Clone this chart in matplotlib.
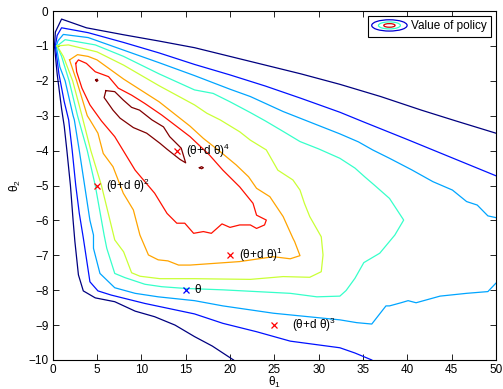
import matplotlib
matplotlib.use("Agg")
import matplotlib.pyplot as plt
from matplotlib.colors import Normalize, LinearSegmentedColormap
from matplotlib.patches import Ellipse
from matplotlib.legend_handler import HandlerBase
from matplotlib.lines import Line2D

plt.rcParams['font.family'] = ['Liberation Sans', 'DejaVu Sans']
plt.rcParams['mathtext.fontset'] = 'custom'
plt.rcParams['mathtext.rm'] = 'Liberation Sans'
plt.rcParams['mathtext.it'] = 'Liberation Sans'
plt.rcParams['mathtext.default'] = 'regular'

# ---- contour levels (value of policy), traced iso-lines: theta1 / theta2 ----
level_values = [1, 2, 3, 4, 5, 6, 7, 8]

c1_t1 = [50, 45.5, 41.6, 37, 32.4, 28, 24, 20, 16, 12, 8, 3.8, 1, 0.3, 0.2, 0.5, 1.0, 1.3, 1.6, 2.0, 2.3, 2.5, 2.9, 3.45, 4.8, 7, 9.3, 11.5, 13.8, 16, 18, 19.2, 20.4]
c1_t2 = [-3.5, -3.15, -2.84, -2.45, -2.1, -1.8, -1.55, -1.3, -1.05, -0.86, -0.68, -0.48, -0.23, -0.6, -1.0, -1.8, -2.8, -3.3, -4.0, -5.0, -6.0, -6.6, -7.56, -8.02, -8.22, -8.33, -8.6, -8.76, -9.0, -9.33, -9.6, -9.8, -10]

c2_t1 = [50, 45, 40, 35, 32.4, 28, 24, 20, 16, 12, 8, 4, 1, 0.5, 0.3, 0.7, 1.3, 1.8, 2.2, 2.6, 3.0, 3.45, 4.2, 5.1, 6.6, 10.4, 16, 19.2, 23, 26.8, 32.4, 34.1, 36]
c2_t2 = [-4.72, -4.2, -3.68, -3.17, -2.9, -2.5, -2.15, -1.83, -1.53, -1.2, -0.9, -0.62, -0.48, -0.7, -1.0, -1.8, -2.6, -3.12, -4.0, -5.0, -5.8, -6.5, -7.76, -8.02, -8.14, -8.38, -8.68, -8.95, -9.19, -9.46, -9.65, -9.8, -10]

c3_t1 = [50, 49.1, 47.9, 46.7, 45.1, 42.9, 40.5, 38, 36.1, 34.5, 32.4, 29.9, 26, 22.3, 20, 16, 12, 8, 4, 1.2, 0.6, 0.4, 0.8, 1.4, 2.3, 2.44, 3.0, 3.6, 4.2, 4.6, 4.6, 5.33, 7, 9.3, 11.9, 16, 19.2, 24.9, 32.4, 34.3, 36, 37.6, 38, 39.3, 40.1, 41, 43.7, 46.7, 49.1, 50]
c3_t2 = [-5.92, -5.87, -5.56, -5.46, -5.13, -4.89, -4.55, -4.22, -3.98, -3.75, -3.52, -3.27, -2.88, -2.45, -2.24, -1.85, -1.48, -1.12, -0.76, -0.67, -0.85, -1.0, -1.6, -2.0, -3.0, -3.12, -4.0, -5.0, -6.0, -6.42, -6.8, -7.52, -7.93, -8.09, -8.19, -8.3, -8.45, -8.66, -8.85, -8.93, -8.97, -8.45, -8.45, -8.36, -8.3, -8.36, -8.17, -8.09, -8.04, -7.8]

c4_t1 = [0.5, 1.4, 4.8, 8, 12, 16, 18.1, 20, 22.3, 24, 26, 27.9, 30, 32.4, 34.1, 35.2, 36.3, 38, 39.6, 38.6, 36.9, 35.1, 34.1, 33.1, 32.4, 29.8, 26.8, 23, 19.2, 15, 12.3, 10.4, 8.15, 7, 6.1, 5.8, 4.8, 3.9, 2.8, 1.85, 1.0, 0.5]
c4_t2 = [-1.0, -0.82, -0.97, -1.3, -1.8, -2.26, -2.36, -2.6, -2.91, -3.15, -3.45, -3.74, -3.95, -4.22, -4.5, -4.75, -4.99, -5.37, -5.99, -6.42, -6.94, -7.21, -7.66, -8.01, -8.17, -8.19, -8.09, -8.04, -7.99, -7.95, -7.9, -7.83, -7.64, -7.52, -6.8, -6.42, -5.0, -4.0, -3.0, -2.0, -1.3, -1.0]

c5_t1 = [0.5, 1.76, 5, 8, 12, 16, 17.4, 18.9, 21.1, 22.3, 24.1, 25.4, 27.1, 27.9, 28.4, 29, 30.3, 30.5, 30.3, 29, 26, 22.3, 16, 12.1, 9.85, 8.9, 8.0, 7.0, 5.5, 4.3, 3.3, 2.25, 1.2, 0.5]
c5_t2 = [-1.0, -0.97, -1.17, -1.55, -2.14, -2.69, -2.93, -3.12, -3.46, -3.7, -3.98, -4.56, -4.84, -5.13, -5.51, -5.89, -6.47, -6.99, -7.47, -7.63, -7.61, -7.69, -7.67, -7.67, -7.6, -7.5, -6.9, -6.56, -5.0, -4.0, -3.0, -2.0, -1.3, -1.0]

c6_t1 = [1.9, 2.8, 4, 5, 8, 12, 15.5, 17, 18.9, 20.7, 22.1, 23, 24.5, 26, 27.1, 27.3, 27.9, 26.8, 24.9, 21.1, 15.5, 14.2, 13, 11.9, 10.8, 9.84, 9.1, 7.96, 6.8, 5.7, 5.1, 4.2, 3.9, 2.7, 1.9]
c6_t2 = [-1.4, -1.25, -1.3, -1.4, -1.95, -2.6, -3.3, -3.65, -4.03, -4.41, -4.75, -5.08, -5.32, -5.89, -6.51, -6.61, -7.01, -7.1, -7.04, -7.18, -7.28, -7.28, -7.16, -7.13, -6.99, -6.42, -5.7, -5.22, -4.46, -4.08, -3.5, -3.12, -3.0, -2.0, -1.4]

c7_t1 = [2.6, 2.9, 3.8, 4.8, 6.3, 7.4, 8.9, 10.4, 12.3, 13.8, 15.5, 17.7, 19.2, 21.1, 22.6, 23, 24.1, 23.9, 23, 22.3, 21.1, 20, 19.1, 17.9, 17, 15.9, 14.9, 14, 12.9, 11.5, 10.4, 9.3, 8.15, 7, 5.5, 4.2, 3.3, 2.7, 2.6]
c7_t2 = [-1.5, -1.4, -1.5, -1.74, -1.88, -2.21, -2.41, -2.65, -2.98, -3.27, -3.6, -4.13, -4.56, -5.04, -5.51, -5.85, -5.99, -6.13, -6.23, -6.13, -6.13, -6.2, -6.1, -6.37, -6.32, -6.37, -6.08, -6.08, -5.8, -5.22, -4.89, -4.56, -4.08, -3.6, -3.15, -2.69, -2.21, -1.74, -1.5]

c8_t1 = [6.0, 7.0, 7.96, 8.9, 9.8, 11.2, 12.5, 13.2, 14.5, 15.0, 14.35, 12.9, 12.1, 10.6, 9.1, 7.6, 6.8, 6.0, 5.8, 6.0]
c8_t2 = [-2.28, -2.31, -2.55, -2.76, -2.84, -3.12, -3.32, -3.6, -3.93, -4.35, -4.25, -3.96, -3.79, -3.5, -3.34, -3.07, -2.84, -2.55, -2.48, -2.28]

c8b_t1 = [16.55, 16.8, 17.0, 16.8, 16.55]
c8b_t2 = [-4.49, -4.46, -4.49, -4.52, -4.49]
c8c_t1 = [4.85, 5.0, 5.1, 4.95, 4.85]
c8c_t2 = [-1.98, -1.95, -1.99, -2.02, -1.98]

paths = [
    (1, c1_t1, c1_t2), (2, c2_t1, c2_t2), (3, c3_t1, c3_t2), (4, c4_t1, c4_t2),
    (5, c5_t1, c5_t2), (6, c6_t1, c6_t2), (7, c7_t1, c7_t2), (8, c8_t1, c8_t2),
    (8, c8b_t1, c8b_t2), (8, c8c_t1, c8c_t2),
]

# ---- policy iterates ----
pt_labels = ['θ', '(θ+d θ)$^{1}$', '(θ+d θ)$^{2}$', '(θ+d θ)$^{3}$', '(θ+d θ)$^{4}$']
pt_t1 = [15, 20, 5, 25, 14]
pt_t2 = [-8, -7, -5, -9, -4]
pt_colors = ['#0000ff', '#ff0000', '#ff0000', '#ff0000', '#ff0000']
label_dx = [1, 1, 1, 2, 1]

xticks = [0, 5, 10, 15, 20, 25, 30, 35, 40, 45, 50]
yticks = [0, -1, -2, -3, -4, -5, -6, -7, -8, -9, -10]

# MATLAB-style jet colormap
matlab_jet = LinearSegmentedColormap('matlab_jet', {
    'red':   [(0, 0, 0), (0.375, 0, 0), (0.625, 1, 1), (0.875, 1, 1), (1, 0.5, 0.5)],
    'green': [(0, 0, 0), (0.125, 0, 0), (0.375, 1, 1), (0.625, 1, 1), (0.875, 0, 0), (1, 0, 0)],
    'blue':  [(0, 0.5, 0.5), (0.125, 1, 1), (0.375, 1, 1), (0.625, 0, 0), (1, 0, 0)],
})
norm = Normalize(vmin=min(level_values), vmax=max(level_values))

fig = plt.figure(figsize=(5.03, 3.89), dpi=100)
ax = fig.add_axes([0.1048, 0.0746, 0.881, 0.897])

for lev, xs, ys in paths:
    ax.plot(xs, ys, color=matlab_jet(norm(lev)), lw=0.9, solid_joinstyle='round')

for x, y, c, lab, dx in zip(pt_t1, pt_t2, pt_colors, pt_labels, label_dx):
    ax.plot([x], [y], marker='x', color=c, ms=4.5, mew=0.9, ls='none')
    ax.text(x + dx, y, lab, fontsize=8.5, ha='left', va='center')

ax.set_xlim(0, 50)
ax.set_ylim(-10, 0)
ax.set_xticks(xticks)
ax.set_yticks(yticks)
ax.tick_params(direction='in', top=True, right=True, length=4, width=0.6, labelsize=8.5, pad=3)
for s in ax.spines.values():
    s.set_linewidth(0.8)
ax.set_xlabel('θ$_1$', fontsize=8.5)
ax.xaxis.set_label_coords(0.5, -0.042)
ax.set_ylabel('θ$_2$', fontsize=8.5, labelpad=4)


class HandlerEllipses(HandlerBase):
    def create_artists(self, legend, orig_handle, xdescent, ydescent, width, height, fontsize, trans):
        cx = width / 2 - xdescent
        cy = height / 2 - ydescent
        arts = []
        for frac, lev in [(1.0, 1.6), (0.62, 4), (0.32, 7.4)]:
            e = Ellipse((cx, cy), width * frac, height * 1.15 * frac, fill=False,
                        edgecolor=matlab_jet(norm(lev)), lw=0.9, transform=trans)
            arts.append(e)
        return arts


proxy = Line2D([], [])
leg = ax.legend([proxy], ['Value of policy'], loc='upper right', fontsize=8.5,
                handler_map={Line2D: HandlerEllipses()}, handlelength=3.0, handleheight=0.9,
                handletextpad=0.3, borderpad=0.35, borderaxespad=0.45, fancybox=False,
                framealpha=1, edgecolor='black')
leg.get_frame().set_linewidth(0.8)

fig.savefig('out.png', dpi=100)
